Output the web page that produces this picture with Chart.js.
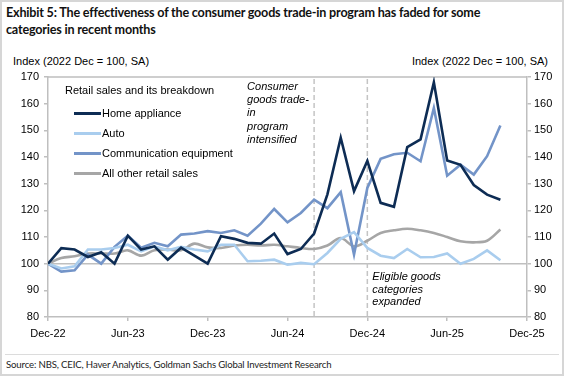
<!DOCTYPE html>
<html>
<head>
<meta charset="utf-8">
<script src="https://cdn.jsdelivr.net/npm/chart.js@4/dist/chart.umd.min.js"></script>
<style>
  html, body { margin: 0; padding: 0; background: #fff; }
  #page { position: relative; width: 564px; height: 376px; overflow: hidden; }
  #frame { position: absolute; left: 0; top: 0; right: 0; bottom: 0; border: 2px solid #d6d6d6; pointer-events: none; }
  #title { position: absolute; left: 6px; top: 4px; width: 505px; font: bold 12.6px Lato, "Noto Sans", sans-serif; letter-spacing: -0.2px; line-height: 17px; color: #111; }
  .axisTitle { position: absolute; top: 55px; font: 11px "Liberation Sans", Arial, sans-serif; color: #000; white-space: nowrap; }
  #legend { position: absolute; left: 65px; top: 84px; font: 11px "Liberation Sans", Arial, sans-serif; color: #000; }
  #legend .head { height: 19px; }
  #legend .item { display: flex; align-items: center; height: 20px; margin-left: 9px; }
  #legend .swatch { width: 27px; height: 3px; margin-right: 1px; }
  #chartBox { position: absolute; left: 0; top: 0; width: 564px; height: 342px; }
  #rule { position: absolute; left: 5px; right: 5px; top: 354px; border-top: 1px solid #dcdcdc; }
  #source { position: absolute; left: 6px; top: 359px; font: 9.6px Lato, "Noto Sans", sans-serif; letter-spacing: -0.15px; color: #222; white-space: nowrap; }
</style>
</head>
<body>
<div id="page">
  <div id="title">Exhibit 5: The effectiveness of the consumer goods trade-in program has faded for some categories in recent months</div>
  <div class="axisTitle" style="left:13px">Index (2022 Dec = 100, SA)</div>
  <div class="axisTitle" style="right:16px">Index (2022 Dec = 100, SA)</div>
  <div id="chartBox"><canvas id="chart"></canvas></div>
  <div id="legend"></div>
  <div id="rule"></div>
  <div id="source">Source: NBS, CEIC, Haver Analytics, Goldman Sachs Global Investment Research</div>
  <div id="frame"></div>
</div>
<script>
// months Dec-22 .. Oct-25
const months = ['Dec-22','Jan-23','Feb-23','Mar-23','Apr-23','May-23','Jun-23','Jul-23','Aug-23','Sep-23','Oct-23','Nov-23',
  'Dec-23','Jan-24','Feb-24','Mar-24','Apr-24','May-24','Jun-24','Jul-24','Aug-24','Sep-24','Oct-24','Nov-24',
  'Dec-24','Jan-25','Feb-25','Mar-25','Apr-25','May-25','Jun-25','Jul-25','Aug-25','Sep-25','Oct-25'];
const xTickLabels = ['Dec-22','Jun-23','Dec-23','Jun-24','Dec-24','Jun-25','Dec-25'];

const homeAppliance = [100, 105.8, 105.3, 102.5, 104.3, 100, 110.5, 105.3, 106.5, 101.5, 106, 103,
  100, 110.3, 109.3, 107.8, 107.5, 111.3, 103.6, 105.5, 111.3, 126, 147.2, 127.2,
  138.5, 122.8, 121.3, 143.7, 146.6, 168, 138.7, 137.1, 129.5, 125.9, 124];
const auto = [100, 98.2, 99, 105.3, 105.3, 105.9, 107.1, 104.6, 106.5, 105, 106.3, 105.3,
  104.6, 107.1, 107.1, 100.9, 101.1, 101.5, 99.6, 100.3, 99.8, 104, 109.3, 111.8,
  105.9, 103, 102.1, 105.5, 102.4, 102.5, 103.8, 100, 101.8, 105, 101.3];
const communication = [100, 97, 97.5, 103.4, 100, 106.3, 110.5, 106, 107.8, 106.5, 110.9, 111.3,
  112.2, 111.5, 112.5, 110.5, 115, 120.5, 115.5, 119, 124, 120.8, 126.8, 103.4,
  128.4, 139.3, 141, 141.6, 138.4, 158.4, 133, 137.1, 133.4, 140.3, 151.8];
const otherRetail = [100, 102.1, 102.8, 103.8, 103.8, 103.8, 105, 103, 105, 105.3, 105, 107.5,
  106.1, 105.9, 106.8, 107.1, 106.8, 107.1, 106.5, 105.9, 105.5, 106.8, 109.6, 106.5,
  108.6, 111.5, 112.5, 113.1, 112.5, 111.5, 110, 108.4, 108, 108.6, 112.8];

const seriesNames = ['Home appliance', 'Auto', 'Communication equipment', 'All other retail sales'];
const seriesColors = ['#0d2c54', '#a9cdee', '#7394c8', '#a6a6a6'];
const seriesData = [homeAppliance, auto, communication, otherRetail];

// policy events (month index) and their notes
const eventMonths = [20, 24];
const eventNotes = [
  ['Consumer', 'goods trade-', 'in', 'program', 'intensified'],
  ['Eligible goods', 'categories', 'expanded']
];

const axisGrey = '#bfbfbf';
const tickFont = { family: 'Liberation Sans', size: 11 };

const legend = document.getElementById('legend');
legend.innerHTML = '<div class="head">Retail sales and its breakdown</div>' +
  seriesNames.map((n, i) => `<div class="item"><span class="swatch" style="background:${seriesColors[i]}"></span>${n}</div>`).join('');

const refPlugin = {
  id: 'refLines',
  beforeDatasetsDraw(chart) {
    const { ctx, chartArea: a, scales } = chart;
    ctx.save();
    // top frame + 100 baseline
    ctx.strokeStyle = axisGrey;
    ctx.lineWidth = 1.5;
    ctx.beginPath();
    ctx.moveTo(a.left, a.top); ctx.lineTo(a.right, a.top);
    const y100 = scales.y.getPixelForValue(100);
    ctx.moveTo(a.left, y100); ctx.lineTo(a.right, y100);
    ctx.stroke();
    // dashed event lines
    ctx.strokeStyle = '#c4c4c4';
    ctx.setLineDash([5, 3]);
    eventMonths.forEach(m => {
      const x = scales.x.getPixelForValue(m);
      ctx.beginPath();
      ctx.moveTo(x, a.top + 2); ctx.lineTo(x, a.bottom);
      ctx.stroke();
    });
    ctx.restore();
  },
  afterDraw(chart) {
    const { ctx, scales } = chart;
    ctx.save();
    ctx.font = 'italic 11px "Liberation Sans", Arial, sans-serif';
    ctx.fillStyle = '#000';
    ctx.textBaseline = 'middle';
    // first note sits left of its line, second to the right
    const x1 = scales.x.getPixelForValue(eventMonths[0]) - 67;
    eventNotes[0].forEach((t, i) => ctx.fillText(t, x1, 87 + i * 13.2));
    const x2 = scales.x.getPixelForValue(eventMonths[1]) + 5;
    eventNotes[1].forEach((t, i) => ctx.fillText(t, x2, 277 + i * 12.7));
    ctx.restore();
  }
};

new Chart(document.getElementById('chart'), {
  type: 'line',
  data: {
    datasets: seriesData.map((arr, i) => ({
      label: seriesNames[i],
      data: arr.map((v, j) => ({ x: j, y: v })),
      borderColor: seriesColors[i],
      borderWidth: 2.6,
      pointRadius: 0,
      tension: i === 3 ? 0.35 : 0,
      fill: false
    }))
  },
  options: {
    responsive: true,
    maintainAspectRatio: false,
    animation: false,
    layout: { padding: { top: 77, left: 0, right: 0, bottom: 0 } },
    plugins: { legend: { display: false }, tooltip: { enabled: false } },
    scales: {
      x: {
        type: 'linear', min: 0, max: 36,
        afterFit: s => { s.height = 25; },
        ticks: { stepSize: 6, autoSkip: false, maxRotation: 0, padding: 6, color: '#000', font: tickFont,
          callback: v => xTickLabels[v / 6] },
        grid: { drawOnChartArea: false, tickLength: 4, color: axisGrey, lineWidth: 1.5 },
        border: { color: axisGrey, width: 1.5 }
      },
      y: {
        position: 'left', min: 80, max: 170,
        afterFit: s => { s.width = 48; },
        ticks: { stepSize: 10, padding: 5, color: '#000', font: tickFont },
        grid: { drawOnChartArea: false, tickLength: 4, color: axisGrey, lineWidth: 1.5 },
        border: { color: axisGrey, width: 1.5 }
      },
      y2: {
        position: 'right', min: 80, max: 170,
        afterFit: s => { s.width = 37; },
        ticks: { stepSize: 10, padding: 3, color: '#000', font: tickFont },
        grid: { drawOnChartArea: false, tickLength: 4, color: axisGrey, lineWidth: 1.5 },
        border: { color: axisGrey, width: 1.5 }
      }
    }
  },
  plugins: [refPlugin]
});
</script>
</body>
</html>
